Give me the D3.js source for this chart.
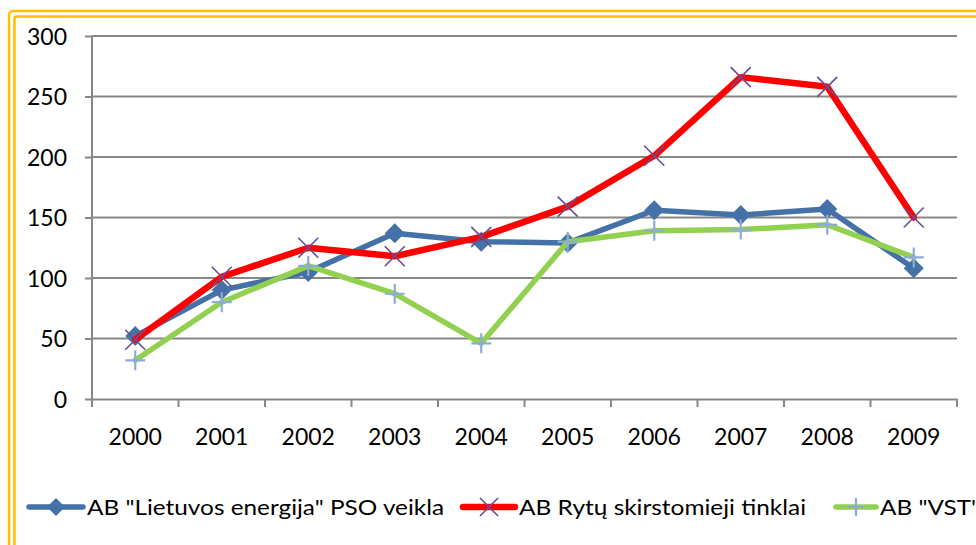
<!DOCTYPE html>
<html>
<head>
<meta charset="utf-8">
<script src="https://cdn.jsdelivr.net/npm/d3@7"></script>
<style>
  body { margin: 0; background: #fff; overflow: hidden; }
  text { font-family: Lato, "Open Sans", sans-serif; fill: #000; }
</style>
</head>
<body>
<script>
// data
var years = ["2000", "2001", "2002", "2003", "2004", "2005", "2006", "2007", "2008", "2009"];
var pso = [52, 90, 105, 137, 130, 129, 156, 152, 157, 108];
var rytu = [49, 101, 125, 118, 134, 159, 201, 266, 258, 150];
var vst = [32, 80, 110, 87, 46, 130, 139, 140, 144, 117];
var yTicks = [0, 50, 100, 150, 200, 250, 300];
var names = ['AB "Lietuvos energija" PSO veikla', 'AB Rytų skirstomieji tinklai', 'AB "VST"'];

var series = [
    {name: names[0], values: pso, color: "#4472a8", width: 5.5, marker: "diamond"},
    {name: names[1], values: rytu, color: "#ff0000", width: 6.5, marker: "cross"},
    {name: names[2], values: vst, color: "#92d050", width: 5.5, marker: "plus"}
];

var svg = d3.select("body").append("svg")
    .attr("width", 976)
    .attr("height", 545);

// gold double frame
svg.append("rect")
    .attr("x", 9).attr("y", 11).attr("width", 1000).attr("height", 560)
    .attr("rx", 4)
    .attr("fill", "none").attr("stroke", "#ffc000").attr("stroke-width", 2.5);
svg.append("rect")
    .attr("x", 14.5).attr("y", 16.5).attr("width", 1000).attr("height", 560)
    .attr("rx", 2)
    .attr("fill", "none").attr("stroke", "#ffc000").attr("stroke-width", 2.5);

var x = d3.scaleBand().domain(years).range([92, 957]);
var y = d3.scaleLinear().domain([0, 300]).range([399, 36]);

// gridlines + y axis
var yaxis = svg.append("g")
    .attr("transform", "translate(92,0)")
    .call(d3.axisLeft(y).tickValues(yTicks).tickSize(7).tickPadding(18));
yaxis.select(".domain").remove();
yaxis.selectAll("line").attr("stroke", "#878787").attr("stroke-width", 2);
yaxis.selectAll("text").attr("font-size", 23).attr("dy", "0.35em");

svg.append("g").selectAll("line")
    .data(yTicks.filter(function(d) { return d > 0; }))
    .join("line")
    .attr("x1", 92).attr("x2", 957)
    .attr("y1", function(d) { return y(d); })
    .attr("y2", function(d) { return y(d); })
    .attr("stroke", "#878787").attr("stroke-width", 2);

svg.append("line")
    .attr("x1", 92).attr("x2", 92)
    .attr("y1", y(300)).attr("y2", y(0))
    .attr("stroke", "#878787").attr("stroke-width", 2);

// x axis
var xaxis = svg.append("g")
    .attr("transform", "translate(0," + y(0) + ")")
    .call(d3.axisBottom(x).tickSize(0).tickPadding(30));
xaxis.select(".domain").attr("stroke", "#878787").attr("stroke-width", 2);
xaxis.selectAll("text").attr("font-size", 23);

var bounds = years.map(function(d) { return x(d); }).concat([x.range()[1]]);
xaxis.selectAll(".bnd")
    .data(bounds)
    .join("line")
    .attr("class", "bnd")
    .attr("x1", function(d) { return d; }).attr("x2", function(d) { return d; })
    .attr("y1", 0).attr("y2", 8)
    .attr("stroke", "#878787").attr("stroke-width", 2);

function cx(i) { return x(years[i]) + x.bandwidth() / 2; }

function drawMarker(g, kind, px, py, s) {
    if (kind == "diamond") {
        g.append("path")
            .attr("d", "M" + px + "," + (py - s) + "L" + (px + s) + "," + py + "L" + px + "," + (py + s) + "L" + (px - s) + "," + py + "Z")
            .attr("fill", "#4472a8");
    } else if (kind == "cross") {
        g.append("path")
            .attr("d", "M" + (px - s) + "," + (py - s) + "L" + (px + s) + "," + (py + s) + "M" + (px - s) + "," + (py + s) + "L" + (px + s) + "," + (py - s))
            .attr("stroke", "#6a4c93").attr("stroke-width", 1.6).attr("fill", "none");
    } else {
        g.append("path")
            .attr("d", "M" + (px - s) + "," + py + "L" + (px + s) + "," + py + "M" + px + "," + (py - s) + "L" + px + "," + (py + s))
            .attr("stroke", "#8eaadb").attr("stroke-width", 2.2).attr("fill", "none");
    }
}

var line = d3.line()
    .x(function(d, i) { return cx(i); })
    .y(function(d) { return y(d); });

series.forEach(function(s) {
    var g = svg.append("g");
    g.append("path")
        .datum(s.values)
        .attr("fill", "none")
        .attr("stroke", s.color)
        .attr("stroke-width", s.width)
        .attr("stroke-linejoin", "round")
        .attr("stroke-linecap", "round")
        .attr("d", line);
    s.values.forEach(function(v, i) {
        drawMarker(g, s.marker, cx(i), y(v), 10);
    });
});

// legend
var legendX = [29, 463, 836];
var legendLen = [54, 52, 40];
var legendTextW = [357, 287, 100];
series.forEach(function(s, k) {
    var g = svg.append("g");
    var x0 = legendX[k], x1 = x0 + legendLen[k];
    g.append("line")
        .attr("x1", x0).attr("x2", x1).attr("y1", 507).attr("y2", 507)
        .attr("stroke", s.color).attr("stroke-width", s.width)
        .attr("stroke-linecap", "round");
    drawMarker(g, s.marker, (x0 + x1) / 2, 507, 9);
    g.append("text")
        .attr("x", x1 + 4).attr("y", 515)
        .attr("font-size", 22)
        .attr("textLength", legendTextW[k])
        .attr("lengthAdjust", "spacingAndGlyphs")
        .text(s.name);
});
</script>
</body>
</html>
